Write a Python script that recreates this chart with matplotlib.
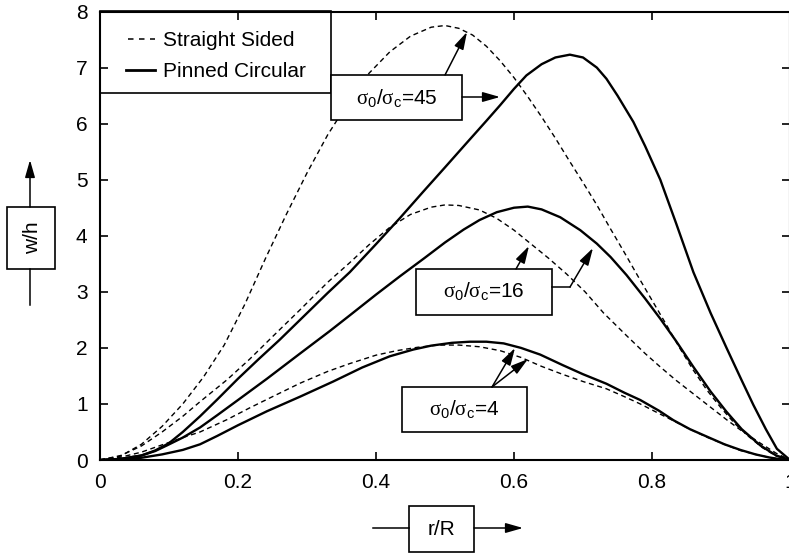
import matplotlib
matplotlib.use('Agg')
import matplotlib.pyplot as plt
from matplotlib.patches import Rectangle, FancyArrowPatch
from matplotlib.lines import Line2D

plt.rcParams['font.family'] = ['Liberation Sans', 'DejaVu Sans']
plt.rcParams['mathtext.fontset'] = 'custom'
plt.rcParams['mathtext.rm'] = 'Liberation Serif'
plt.rcParams['mathtext.sf'] = 'Liberation Sans'
plt.rcParams['mathtext.it'] = 'Liberation Serif:italic'

# ---------------- data ----------------
x_ticks = [0, 0.2, 0.4, 0.6, 0.8, 1.0]
x_tick_labels = ['0', '0.2', '0.4', '0.6', '0.8', '1']
y_ticks = [0, 1, 2, 3, 4, 5, 6, 7, 8]
y_tick_labels = ['0', '1', '2', '3', '4', '5', '6', '7', '8']

# Straight Sided, sigma0/sigmac = 45
ss45_x = [0, 0.03, 0.06, 0.09, 0.12, 0.15, 0.18, 0.21, 0.24, 0.27, 0.30, 0.33, 0.36,
          0.39, 0.42, 0.45, 0.48, 0.50, 0.52, 0.54, 0.56, 0.58, 0.60, 0.62, 0.64, 0.66,
          0.68, 0.70, 0.72, 0.74, 0.76, 0.78, 0.80, 0.82, 0.84, 0.86, 0.88, 0.90, 0.92,
          0.94, 0.96, 0.98, 1.0]
ss45_y = [0, 0.07, 0.28, 0.60, 1.00, 1.48, 2.05, 2.78, 3.60, 4.38, 5.12, 5.80, 6.38,
          6.90, 7.28, 7.56, 7.72, 7.75, 7.70, 7.58, 7.38, 7.12, 6.82, 6.48, 6.12, 5.74,
          5.34, 4.95, 4.55, 4.12, 3.70, 3.27, 2.85, 2.43, 2.00, 1.60, 1.24, 0.93, 0.65,
          0.42, 0.22, 0.07, 0]

# Pinned Circular, sigma0/sigmac = 45
pc45_x = [0, 0.03, 0.06, 0.08, 0.10, 0.12, 0.145, 0.17, 0.20, 0.23, 0.26, 0.29, 0.33,
          0.362, 0.40, 0.435, 0.468, 0.50, 0.531, 0.56, 0.58, 0.60, 0.618, 0.64, 0.66,
          0.681, 0.70, 0.72, 0.734, 0.75, 0.773, 0.79, 0.812, 0.835, 0.86, 0.885, 0.908,
          0.93, 0.947, 0.965, 0.981, 1.0]
pc45_y = [0, 0.02, 0.08, 0.17, 0.30, 0.50, 0.78, 1.08, 1.45, 1.80, 2.14, 2.50, 2.98,
          3.35, 3.85, 4.32, 4.78, 5.22, 5.65, 6.05, 6.33, 6.62, 6.86, 7.06, 7.18,
          7.23, 7.18, 7.00, 6.80, 6.50, 6.03, 5.60, 5.00, 4.22, 3.35, 2.62, 2.00,
          1.42, 0.98, 0.55, 0.20, 0]

# Straight Sided, sigma0/sigmac = 16
ss16_x = [0, 0.03, 0.06, 0.09, 0.12, 0.145, 0.184, 0.217, 0.25, 0.29, 0.33, 0.362, 0.39,
          0.42, 0.45, 0.48, 0.50, 0.52, 0.55, 0.575, 0.60, 0.623, 0.65, 0.676, 0.703,
          0.73, 0.763, 0.79, 0.812, 0.835, 0.86, 0.885, 0.908, 0.93, 0.957, 0.98, 1.0]
ss16_y = [0, 0.08, 0.25, 0.50, 0.78, 1.04, 1.43, 1.80, 2.20, 2.68, 3.17, 3.52, 3.84,
          4.15, 4.38, 4.51, 4.55, 4.54, 4.46, 4.31, 4.10, 3.87, 3.60, 3.32, 3.00,
          2.62, 2.22, 1.90, 1.66, 1.42, 1.18, 0.94, 0.72, 0.52, 0.30, 0.12, 0]

# Pinned Circular, sigma0/sigmac = 16
pc16_x = [0, 0.03, 0.06, 0.08, 0.097, 0.12, 0.145, 0.17, 0.20, 0.242, 0.29, 0.333, 0.362,
          0.40, 0.435, 0.47, 0.50, 0.527, 0.55, 0.575, 0.60, 0.62, 0.64, 0.667, 0.696,
          0.72, 0.74, 0.763, 0.79, 0.812, 0.835, 0.86, 0.885, 0.908, 0.93, 0.957, 0.98, 1.0]
pc16_y = [0, 0.02, 0.08, 0.16, 0.26, 0.40, 0.58, 0.80, 1.07, 1.45, 1.90, 2.30, 2.58,
          2.95, 3.28, 3.60, 3.88, 4.11, 4.28, 4.42, 4.50, 4.52, 4.47, 4.33, 4.10,
          3.86, 3.62, 3.30, 2.88, 2.52, 2.12, 1.66, 1.22, 0.86, 0.55, 0.26, 0.08, 0]

# Straight Sided, sigma0/sigmac = 4
ss4_x = [0, 0.03, 0.06, 0.09, 0.12, 0.145, 0.184, 0.217, 0.25, 0.29, 0.33, 0.362, 0.40,
         0.43, 0.46, 0.49, 0.52, 0.55, 0.58, 0.61, 0.64, 0.67, 0.70, 0.734, 0.76, 0.783,
         0.81, 0.831, 0.855, 0.879, 0.905, 0.928, 0.95, 0.97, 0.985, 1.0]
ss4_y = [0, 0.05, 0.14, 0.27, 0.40, 0.50, 0.72, 0.93, 1.13, 1.37, 1.58, 1.72, 1.87,
         1.95, 2.01, 2.05, 2.05, 2.02, 1.95, 1.83, 1.67, 1.53, 1.40, 1.27, 1.13, 1.00,
         0.83, 0.70, 0.55, 0.41, 0.28, 0.17, 0.10, 0.045, 0.015, 0]

# Pinned Circular, sigma0/sigmac = 4
pc4_x = [0, 0.03, 0.06, 0.09, 0.12, 0.145, 0.17, 0.20, 0.242, 0.29, 0.338, 0.38, 0.42,
         0.454, 0.48, 0.51, 0.536, 0.56, 0.585, 0.61, 0.638, 0.671, 0.70, 0.734, 0.76,
         0.783, 0.81, 0.831, 0.855, 0.879, 0.905, 0.928, 0.95, 0.97, 0.985, 1.0]
pc4_y = [0, 0.01, 0.04, 0.10, 0.18, 0.28, 0.43, 0.62, 0.87, 1.13, 1.40, 1.65, 1.85,
         1.97, 2.04, 2.09, 2.11, 2.11, 2.08, 2.00, 1.88, 1.69, 1.53, 1.36, 1.20,
         1.07, 0.88, 0.71, 0.55, 0.42, 0.28, 0.18, 0.10, 0.045, 0.015, 0]

legend_labels = ['Straight Sided', 'Pinned Circular']
ratio_labels = ['45', '16', '4']

# ---------------- figure ----------------
W, H = 789, 554
fig = plt.figure(figsize=(W / 100, H / 100), dpi=100)
ax = fig.add_axes([100 / W, 1 - 460 / H, 690 / W, 448.5 / H])

DASH = dict(color='black', lw=1.0, linestyle=(0, (3.6, 2.6)))
SOLID = dict(color='black', lw=1.7, solid_capstyle='round', solid_joinstyle='round')

ax.plot(ss45_x, ss45_y, **DASH)
ax.plot(ss16_x, ss16_y, **DASH)
ax.plot(ss4_x, ss4_y, **DASH)
ax.plot(pc45_x, pc45_y, **SOLID)
ax.plot(pc16_x, pc16_y, **SOLID)
ax.plot(pc4_x, pc4_y, **SOLID)

ax.set_xlim(0, 1)
ax.set_ylim(0, 8)
ax.set_xticks(x_ticks)
ax.set_xticklabels(x_tick_labels)
ax.set_yticks(y_ticks)
ax.set_yticklabels(y_tick_labels)
ax.tick_params(direction='in', length=6, width=1.2, top=True, right=True,
               labelsize=15, colors='black')
ax.tick_params(axis='y', pad=9)
ax.tick_params(axis='x', pad=9)
for s in ax.spines.values():
    s.set_linewidth(1.5)


def fp(x, y):
    return (x / W, 1 - y / H)


def box(x0, y0, x1, y1, fill=True):
    r = Rectangle(fp(x0, y1), (x1 - x0) / W, (y1 - y0) / H, transform=fig.transFigure,
                  fc='white' if fill else 'none', ec='black', lw=1.2, zorder=5)
    fig.add_artist(r)


def arrow(p0, p1):
    a = FancyArrowPatch(fp(*p0), fp(*p1), transform=fig.transFigure,
                        arrowstyle='-|>,head_length=1.05,head_width=0.3',
                        mutation_scale=10, lw=1.1, color='black',
                        shrinkA=0, shrinkB=0, zorder=6)
    fig.add_artist(a)


def line(pts):
    xs = [p[0] / W for p in pts]
    ys = [1 - p[1] / H for p in pts]
    fig.add_artist(Line2D(xs, ys, transform=fig.transFigure, color='black', lw=1.1, zorder=6))


def label(x, y, s, **kw):
    t = fig.text(x / W, 1 - y / H, s, fontsize=15, color='black', zorder=7, **kw)
    return t


# legend
box(100, 11.5, 331, 93, fill=False)
fig.add_artist(Line2D([128 / W, 155 / W], [1 - 38.5 / H] * 2, transform=fig.transFigure,
                      color='black', lw=1.1, linestyle=(0, (3.6, 3.6)), zorder=6))
fig.add_artist(Line2D([126 / W, 155 / W], [1 - 69.5 / H] * 2, transform=fig.transFigure,
                      color='black', lw=2.0, zorder=6))
label(163, 46, legend_labels[0], ha='left', va='baseline')
label(163, 77, legend_labels[1], ha='left', va='baseline')

sig = r'$\mathrm{\sigma}_{\mathsf{0}}\mathsf{/}\mathrm{\sigma}_{\mathsf{c}}$='

# sigma0/sigmac = 45
box(331, 75, 462, 120)
label(396.5, 104, sig + ratio_labels[0], ha='center', va='baseline')
arrow((445, 75), (467, 32))
arrow((462, 97), (500, 97))

# sigma0/sigmac = 16
box(416, 269, 552, 315)
label(484, 297.5, sig + ratio_labels[1], ha='center', va='baseline')
arrow((516, 269), (529, 246))
line([(552, 287), (570, 287)])
arrow((570, 287), (593, 248))

# sigma0/sigmac = 4
box(402, 387, 527, 432)
label(464.5, 415.5, sig + ratio_labels[2], ha='center', va='baseline')
arrow((492, 387), (515, 348))
arrow((492, 387), (528, 359))

# y axis label w/h
box(7, 207, 55, 269)
label(33, 238, 'w/h', ha='center', va='center', rotation=90)
line([(30, 269), (30, 305)])
arrow((30, 207), (30, 160))

# x axis label r/R
box(409, 506, 474, 552)
label(441.5, 535, 'r/R', ha='center', va='baseline')
line([(373, 528), (409, 528)])
arrow((474, 528), (523, 528))

fig.savefig('out.png', dpi=100)
